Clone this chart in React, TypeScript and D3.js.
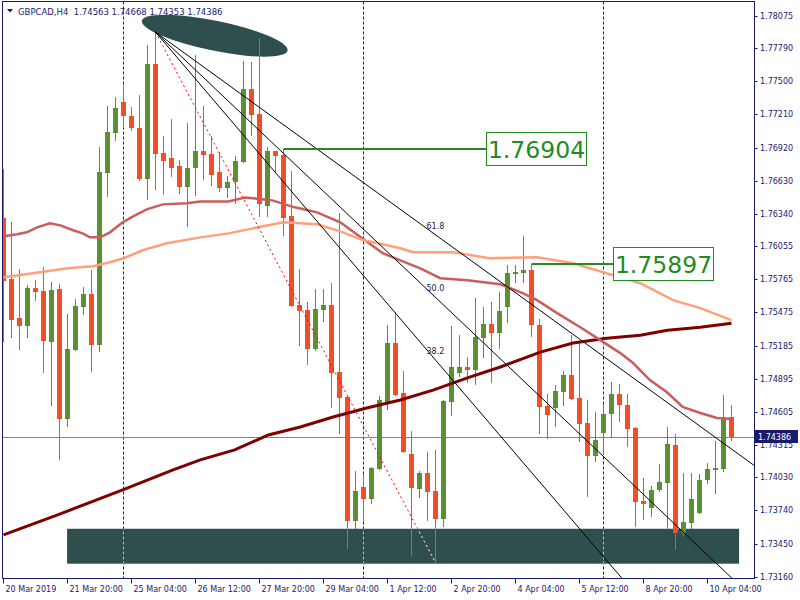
import React from "react";
import * as d3 from "d3";

const opens = [1.76300,1.75766,1.75425,1.75355,1.75687,1.75661,1.75215,1.75679,1.74542,1.75145,1.75521,1.75635,1.75189,1.76693,1.77043,1.77323,1.77200,1.77095,1.76641,1.77655,1.76868,1.76824,1.76754,1.76571,1.76737,1.76886,1.76859,1.76702,1.76562,1.76614,1.76789,1.77436,1.77218,1.76405,1.76886,1.76851,1.76317,1.75539,1.75495,1.75154,1.75495,1.75539,1.74953,1.74734,1.73650,1.73947,1.73842,1.74105,1.74691,1.75207,1.74769,1.74236,1.73930,1.74070,1.73912,1.73667,1.74691,1.74944,1.74997,1.74970,1.75250,1.75373,1.75294,1.75521,1.75810,1.75819,1.75845,1.75364,1.74656,1.74638,1.74778,1.74927,1.74726,1.74507,1.74218,1.74419,1.74586,1.74760,1.74664,1.74463,1.73825,1.73764,1.73921,1.73982,1.74315,1.73545,1.73632,1.73720,1.74008,1.74096,1.74105,1.74563];
const highs = [1.76728,1.76265,1.75854,1.75714,1.75757,1.75871,1.75740,1.75722,1.75460,1.75591,1.75696,1.75845,1.76921,1.77288,1.77367,1.77471,1.77279,1.77384,1.77821,1.77931,1.77025,1.77174,1.76807,1.77139,1.77734,1.77288,1.77025,1.76877,1.76667,1.76842,1.77681,1.77673,1.77882,1.76929,1.76890,1.76904,1.76711,1.75854,1.75565,1.75679,1.75679,1.75731,1.76343,1.74743,1.74087,1.74061,1.74122,1.74743,1.75364,1.75478,1.74962,1.74437,1.74087,1.74253,1.74271,1.74708,1.75355,1.75276,1.75084,1.75600,1.75521,1.75565,1.75652,1.75889,1.75890,1.76142,1.75897,1.75416,1.74760,1.74839,1.74962,1.75276,1.75207,1.74708,1.74603,1.74673,1.74865,1.74848,1.74760,1.74472,1.74026,1.73956,1.74148,1.74472,1.74411,1.74070,1.74070,1.74061,1.74157,1.74350,1.74752,1.74668];
const lows = [1.75215,1.75250,1.75145,1.75250,1.75574,1.74944,1.74656,1.74183,1.74472,1.75137,1.75451,1.74953,1.75128,1.76483,1.76973,1.77095,1.77069,1.76623,1.76457,1.76544,1.76501,1.76658,1.76510,1.76221,1.76492,1.76632,1.76579,1.76527,1.76475,1.76422,1.76781,1.77025,1.76308,1.76308,1.76693,1.76142,1.75521,1.75180,1.75014,1.75137,1.75390,1.74638,1.74411,1.73405,1.73580,1.73650,1.73799,1.74096,1.74621,1.74743,1.74245,1.73344,1.73851,1.73650,1.73283,1.73597,1.74568,1.74909,1.74857,1.74839,1.75075,1.74857,1.75154,1.75381,1.75731,1.75731,1.75259,1.74411,1.74367,1.74472,1.74656,1.74708,1.74341,1.73860,1.74166,1.74227,1.74376,1.74516,1.74297,1.73597,1.73659,1.73685,1.73904,1.73571,1.73396,1.73519,1.73580,1.73711,1.73973,1.73886,1.74078,1.74353];
const closes = [1.75749,1.75408,1.75355,1.75687,1.75652,1.75224,1.75670,1.74542,1.75154,1.75530,1.75635,1.75189,1.76702,1.77052,1.77262,1.77192,1.77087,1.76641,1.77655,1.76859,1.76798,1.76737,1.76571,1.76737,1.76886,1.76851,1.76676,1.76562,1.76614,1.76798,1.77436,1.77209,1.76422,1.76886,1.76842,1.76300,1.75530,1.75486,1.75154,1.75504,1.75539,1.74944,1.74726,1.73650,1.73912,1.73842,1.74113,1.74708,1.75207,1.74752,1.74253,1.73938,1.74070,1.73904,1.73667,1.74699,1.74997,1.74997,1.74970,1.75259,1.75373,1.75294,1.75486,1.75819,1.75827,1.75845,1.75364,1.74647,1.74577,1.74787,1.74927,1.74717,1.74498,1.74218,1.74358,1.74586,1.74760,1.74664,1.74454,1.73816,1.73799,1.73921,1.73991,1.74323,1.73545,1.73641,1.73842,1.74008,1.74105,1.74113,1.74563,1.74386];

// moving averages: [bar index, price]
const maIndianRed = [[0,1.76142],[1.7,1.76160],[2.9,1.76177],[4.2,1.76221],[5.8,1.76256],[7.1,1.76238],[8.7,1.76195],[9.9,1.76168],[10.8,1.76133],[12.1,1.76133],[13.3,1.76177],[14.9,1.76265],[16.2,1.76317],[17.9,1.76378],[19.9,1.76422],[22.9,1.76431],[24.6,1.76448],[28.1,1.76448],[30.2,1.76483],[33.6,1.76457],[36.4,1.76396],[39.2,1.76352],[42.1,1.76265],[45,1.76116],[47.4,1.75994],[49.6,1.75932],[52.1,1.75862],[54.6,1.75775],[58,1.75757],[62.1,1.75722],[64.9,1.75644],[66.7,1.75583],[69.2,1.75469],[72.1,1.75346],[74.6,1.75233],[77.1,1.75119],[78.7,1.75032],[80.8,1.74883],[82.9,1.74778],[84.9,1.74647],[87.1,1.74594],[89.2,1.74551],[91,1.74542]];
const maSalmon = [[0,1.75784],[3.7,1.75819],[8,1.75862],[11.2,1.75880],[13.3,1.75915],[15,1.75950],[17.4,1.76020],[20.4,1.76081],[24.6,1.76133],[28.1,1.76168],[31.8,1.76221],[35,1.76265],[39.2,1.76247],[42.1,1.76186],[45,1.76107],[47.4,1.76072],[49.6,1.76037],[51.2,1.76002],[56.2,1.76002],[60.8,1.75950],[66.7,1.75959],[71.2,1.75906],[75.4,1.75819],[79.6,1.75731],[83.7,1.75583],[87.1,1.75513],[91,1.75408]];
const maMaroon = [[0,1.73527],[7.1,1.73711],[14.9,1.73921],[21.2,1.74096],[24.6,1.74183],[28.9,1.74271],[33.1,1.74402],[37.1,1.74472],[41.2,1.74559],[45.4,1.74638],[49.6,1.74708],[53.7,1.74795],[57.9,1.74900],[62.1,1.74997],[67.1,1.75128],[71.2,1.75207],[75.4,1.75250],[79.6,1.75276],[83,1.75320],[87.1,1.75346],[91,1.75381]];

const priceTicks = ["1.78075","1.77790","1.77500","1.77210","1.76920","1.76630","1.76340","1.76055","1.75765","1.75475","1.75185","1.74895","1.74605","1.74315","1.74030","1.73740","1.73450","1.73160"];
const timeTickIdx = [0,8,16,24,32,40,48,56,64,72,80,88];
const timeTickLabels = ["20 Mar 2019","21 Mar 20:00","25 Mar 04:00","26 Mar 12:00","27 Mar 20:00","29 Mar 04:00","1 Apr 12:00","2 Apr 20:00","4 Apr 04:00","5 Apr 12:00","8 Apr 20:00","10 Apr 04:00"];
const separatorIdx = [15,45,75];

const fanStart = [19, 1.77931];
const fanEnd = [54, 1.73283];
const fanLevels = [0.382, 0.5, 0.618];
const fanLabels = ["38.2","50.0","61.8"];

const levelPrices = [1.76904, 1.75897];
const levelFrom = [35, 66];
const levelTo = [60.3, 76.2];
const levelText = ["1.76904","1.75897"];

const zoneIdx = [7.95, 91.95];
const zonePrice = [1.73580, 1.73274];
const ellipseP1 = [17.3, 1.78031];
const ellipseP2 = [35.5, 1.77769];

const header = "GBPCAD,H4  1.74563 1.74668 1.74353 1.74386";
const lastPrice = 1.74386;

const NAVY = "#191970";
const BULL = "#5B8F34";
const BEAR = "#F04E28";
const FONT = "DejaVu Sans, Verdana, sans-serif";

export default function App() {
  const L = 2.5, R = 754.5, T = 1.5, B = 578.5;
  const x = d3.scaleLinear().domain([0, 91]).range([3.5, 731.5]);
  const y = d3.scaleLinear().domain([1.7316, 1.78075]).range([576.7, 15.7]);
  const line = d3.line<number[]>().x(d => x(d[0])).y(d => y(d[1]));

  const zx0 = x(zoneIdx[0]), zx1 = x(zoneIdx[1]);
  const zy0 = y(zonePrice[0]), zy1 = y(zonePrice[1]);

  const ex1 = x(ellipseP1[0]), ey1 = y(ellipseP1[1]);
  const ex2 = x(ellipseP2[0]), ey2 = y(ellipseP2[1]);
  const ecx = (ex1 + ex2) / 2, ecy = (ey1 + ey2) / 2;
  const erx = Math.hypot(ex2 - ex1, ey2 - ey1) / 2;
  const eang = Math.atan2(ey2 - ey1, ex2 - ex1) * 180 / Math.PI;

  const fx1 = x(fanStart[0]), fy1 = y(fanStart[1]);
  const fx2 = x(fanEnd[0]), fy2 = y(fanEnd[1]);

  return (
    <svg width={800} height={600} style={{ position: "absolute", left: 0, top: 0, background: "#fff", display: "block" }}>
      <defs>
        <clipPath id="plot"><rect x={L} y={T} width={R - L} height={B - T} /></clipPath>
        <clipPath id="zone"><rect x={zx0} y={zy0} width={zx1 - zx0} height={zy1 - zy0} /></clipPath>
      </defs>
      <rect x={0} y={0} width={800} height={600} fill="#fff" />
      <g clipPath="url(#plot)">
        <rect x={zx0} y={zy0} width={zx1 - zx0} height={zy1 - zy0} fill="#2F4F4F" />
        <ellipse cx={ecx} cy={ecy} rx={erx} ry={15} transform={`rotate(${eang} ${ecx} ${ecy})`} fill="#2F4F4F" />
        {separatorIdx.map((s, i) => (
          <g key={"sep" + i}>
            <line x1={x(s)} x2={x(s)} y1={T} y2={B} stroke={NAVY} strokeDasharray="3 2" />
            <line x1={x(s)} x2={x(s)} y1={T} y2={B} stroke="#D0B0C8" strokeDasharray="3 2" clipPath="url(#zone)" />
          </g>
        ))}
        <line x1={L} x2={R} y1={Math.round(y(lastPrice)) + 0.5} y2={Math.round(y(lastPrice)) + 0.5} stroke="#778899" />
        {opens.map((o, i) => {
          const c = closes[i];
          const col = c >= o ? BULL : BEAR;
          const top = Math.round(y(Math.max(o, c)));
          const bot = Math.round(y(Math.min(o, c)));
          const cx = x(i);
          return (
            <g key={"c" + i}>
              <line x1={cx} x2={cx} y1={Math.round(y(highs[i]))} y2={Math.round(y(lows[i]))} stroke={col} />
              <rect x={cx - 2.5} y={top} width={5} height={Math.max(1, bot - top)} fill={col} />
            </g>
          );
        })}
        <path d={line(maMaroon) || ""} fill="none" stroke="#800000" strokeWidth={3} />
        <path d={line(maIndianRed) || ""} fill="none" stroke="#CD5C5C" strokeWidth={2.5} />
        <path d={line(maSalmon) || ""} fill="none" stroke="#FFA07A" strokeWidth={2.5} />
        <line x1={fx1} y1={fy1} x2={fx2} y2={fy2} stroke="#FF0000" strokeDasharray="2 3" />
        <line x1={fx1} y1={fy1} x2={fx2} y2={fy2} stroke="#FFFFFF" strokeDasharray="2 3" clipPath="url(#zone)" />
        {fanLevels.map((lv, i) => {
          const py = y(fanEnd[1] + (fanStart[1] - fanEnd[1]) * lv);
          const slope = (py - fy1) / (fx2 - fx1);
          const xe = R + 5;
          return (
            <g key={"fan" + i}>
              <line x1={fx1} y1={fy1} x2={xe} y2={fy1 + slope * (xe - fx1)} stroke="#000" strokeWidth={1} />
              <text x={fx2 - 9} y={py - 6} fontFamily={FONT} fontSize={8} fill="#1a1a50">{fanLabels[i]}</text>
            </g>
          );
        })}
        {levelPrices.map((p, i) => {
          const ly = Math.round(y(p));
          const bx = Math.round(x(levelTo[i])) + 0.5;
          return (
            <g key={"lvl" + i}>
              <line x1={x(levelFrom[i])} x2={bx} y1={ly} y2={ly} stroke="#228B22" strokeWidth={2} />
              <rect x={bx} y={ly - 16.5} width={100} height={33} fill="#fff" stroke="#228B22" strokeWidth={1} />
              <text x={bx + 50} y={ly + 8.5} textAnchor="middle" fontFamily={FONT} fontSize={23.5} fill="#228B22">{levelText[i]}</text>
            </g>
          );
        })}
      </g>
      <rect x={L} y={T} width={R - L} height={B - T} fill="none" stroke={NAVY} strokeWidth={1} />
      <path d="M7,9 L13,9 L10,12.5 Z" fill={NAVY} />
      <text x={18} y={15} fontFamily={FONT} fontSize={8.5} fill={NAVY} style={{ whiteSpace: "pre" }}>{header}</text>
      {priceTicks.map((t, i) => {
        const ty = y(+t);
        return (
          <g key={"pt" + i}>
            <line x1={R} x2={R + 3} y1={Math.round(ty) + 0.5} y2={Math.round(ty) + 0.5} stroke={NAVY} />
            <text x={760} y={ty + 3} fontFamily={FONT} fontSize={8} fill={NAVY}>{t}</text>
          </g>
        );
      })}
      {timeTickIdx.map((ti, i) => (
        <g key={"tt" + i}>
          <line x1={x(ti)} x2={x(ti)} y1={B} y2={B + 5} stroke={NAVY} />
          <text x={x(ti) + 2} y={592} fontFamily={FONT} fontSize={8} fill={NAVY}>{timeTickLabels[i]}</text>
        </g>
      ))}
      <rect x={755} y={430} width={43} height={13} fill={NAVY} />
      <text x={758} y={440} fontFamily={FONT} fontSize={8} fill="#fff">{lastPrice.toFixed(5)}</text>
    </svg>
  );
}
